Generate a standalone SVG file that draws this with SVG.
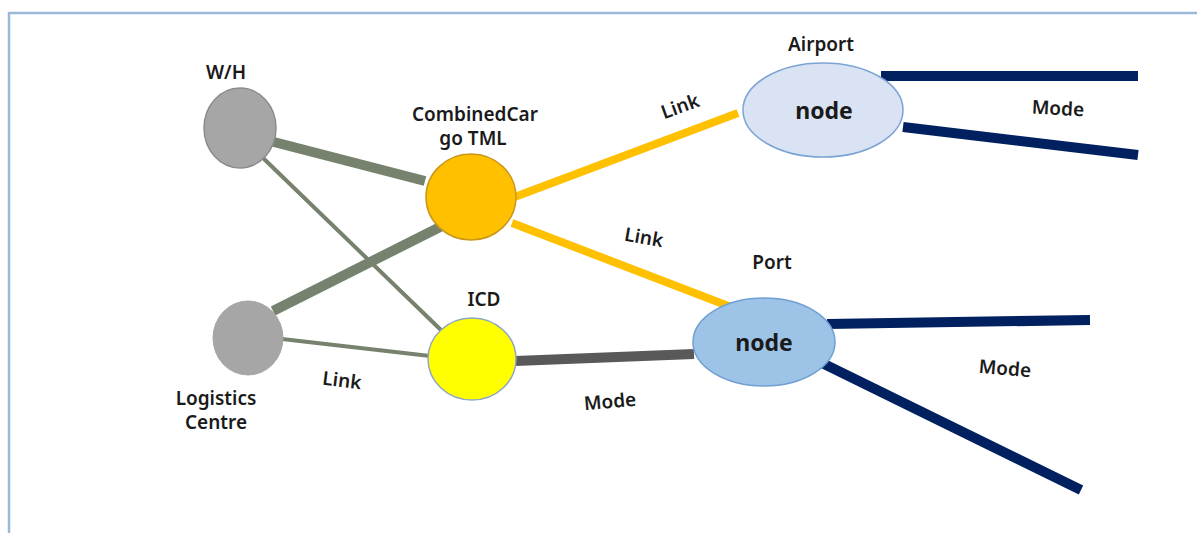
<svg xmlns="http://www.w3.org/2000/svg" width="1197" height="533" viewBox="0 0 1197 533">
<style>
  text { font-family: "Noto Sans", "Open Sans", "Liberation Sans", sans-serif; font-weight: 600; font-size: 19px; fill: #1a1a1a; text-anchor: middle; }
  .big { font-size: 23px; font-weight: 700; }
  .link-thick { stroke: #76826e; stroke-width: 10; fill: none; }
  .link-thin { stroke: #76826e; stroke-width: 4; fill: none; }
  .link-orange { stroke: #ffc000; stroke-width: 8; fill: none; }
  .mode-gray { stroke: #595959; stroke-width: 10; fill: none; }
  .mode-navy { stroke: #002060; stroke-width: 10; fill: none; }
</style>
<rect x="0" y="0" width="1197" height="533" fill="#ffffff"/>
<path d="M9,533 L9,13 L1197,13" fill="none" stroke="#9cb9d9" stroke-width="2.5"/>

<g id="connectors">
  <line class="link-thick" x1="270" y1="141" x2="425" y2="181"/>
  <line class="link-thin" x1="262" y1="157" x2="442" y2="331"/>
  <line class="link-thick" x1="273" y1="311" x2="442" y2="226"/>
  <line class="link-thin" x1="282" y1="339" x2="430" y2="356"/>
  <line class="link-orange" x1="512" y1="198" x2="738" y2="113"/>
  <line class="link-orange" x1="512" y1="223" x2="731" y2="307"/>
  <line class="mode-gray" x1="515" y1="361" x2="694" y2="354"/>
  <line class="mode-navy" x1="881" y1="76" x2="1138" y2="76"/>
  <line class="mode-navy" x1="903" y1="127" x2="1138" y2="155"/>
  <line class="mode-navy" x1="827" y1="324" x2="1090" y2="320"/>
  <line class="mode-navy" x1="820" y1="362" x2="1081" y2="490"/>
  <text x="680" y="113" transform="rotate(-20 680 106)">Link</text>
  <text x="644" y="244" transform="rotate(10 644 237)">Link</text>
  <text x="342" y="387" transform="rotate(7 342 380)">Link</text>
  <text x="610" y="408" transform="rotate(-5 610 401)">Mode</text>
  <text x="1005" y="375" transform="rotate(5 1005 368)">Mode</text>
  <text x="1058" y="115" transform="rotate(3 1058 108)">Mode</text>
</g>

<g id="wh">
  <ellipse cx="240" cy="128" rx="36" ry="40" fill="#a6a6a6" stroke="#8c8c8c" stroke-width="1.5"/>
  <text x="226" y="79">W/H</text>
</g>
<g id="logistics">
  <ellipse cx="248" cy="338" rx="35" ry="37" fill="#a6a6a6" stroke="#a6a6a6" stroke-width="1"/>
  <text x="216" y="405">Logistics</text>
  <text x="216" y="429">Centre</text>
</g>
<g id="cct">
  <ellipse cx="471" cy="197" rx="45" ry="43" fill="#ffc000" stroke="#c9971a" stroke-width="1.5"/>
  <text x="475" y="121">CombinedCar</text>
  <text x="473" y="145">go TML</text>
</g>
<g id="icd">
  <ellipse cx="472" cy="359" rx="44" ry="41" fill="#ffff00" stroke="#8fa6c6" stroke-width="1.5"/>
  <text x="484" y="306">ICD</text>
</g>
<g id="airport">
  <ellipse cx="823" cy="110" rx="80" ry="47" fill="#dae3f3" stroke="#7ba3d4" stroke-width="1.5"/>
  <text class="big" x="824" y="119">node</text>
  <text x="821" y="51">Airport</text>
</g>
<g id="port">
  <ellipse cx="764" cy="342" rx="71" ry="44" fill="#9dc3e6" stroke="#6f9fd2" stroke-width="1.5"/>
  <text class="big" x="764" y="351">node</text>
  <text x="772" y="269">Port</text>
</g>
</svg>
